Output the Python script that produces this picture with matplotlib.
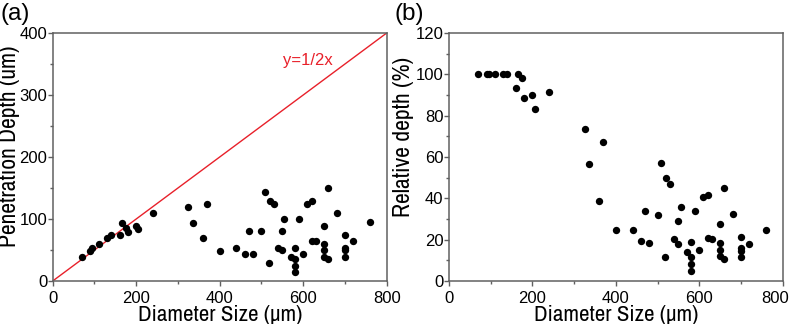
import matplotlib
matplotlib.use("Agg")
import matplotlib.pyplot as plt
from matplotlib.ticker import MultipleLocator
from matplotlib import font_manager as fm
from matplotlib.transforms import ScaledTranslation

plt.rcParams['font.family'] = ['Liberation Sans', 'DejaVu Sans']

# look for a condensed/narrow sans face for the axis titles
narrow = None
for f in fm.fontManager.ttflist:
    n = f.name
    if ('Narrow' in n or 'Condensed' in n) and 'Mono' not in n and 'Serif' not in n:
        narrow = n
        break
if narrow is None:
    for f in fm.fontManager.ttflist:
        if f.stretch in ('condensed', 'semi-condensed', 'extra-condensed') and 'Mono' not in f.name:
            narrow = f.name
            break

# Data
diameter = [70, 90, 95, 110, 130, 140, 160, 165, 175, 180, 200, 205, 240,
            325, 335, 360, 370, 400, 440, 460, 470, 480, 500, 508, 519, 520,
            530, 540, 550, 550, 555, 570, 580, 580, 580, 580, 590, 600, 610,
            620, 620, 630, 650, 650, 650, 650, 660, 660, 680, 700, 700, 700,
            700, 720, 760]
depth = [39, 49, 54, 60, 69, 75, 74, 94, 85, 79, 89, 84, 109,
         119, 94, 69, 124, 49, 54, 44, 80, 44, 80, 144, 29.5, 129,
         124, 54, 80, 49.5, 99.5, 39, 54, 35, 24, 14, 99.5, 44, 124,
         129, 64.5, 64.5, 89, 59, 49.5, 39, 149.5, 35, 110, 74, 54, 49.5,
         39, 64.5, 94.6]
relative = [100, 100, 100, 100, 100, 100, 93.5, 100, 98, 88.7, 89.8, 83, 91.4,
            73.5, 56.5, 38.7, 67.4, 24.8, 24.8, 19.4, 33.9, 18.5, 31.8, 57, 11.5, 49.8,
            47, 20.2, 28.9, 17.9, 35.8, 13.9, 18.7, 11.8, 8.4, 5, 33.7, 14.8, 40.6,
            41.8, 20.6, 20.3, 27.6, 18.4, 15.2, 11.9, 45, 10.5, 32.3, 21.1, 15.8, 14.7,
            11.5, 17.8, 24.8]
line_x = [0, 800]
line_y = [0, 400]
x_ticks = [0, 200, 400, 600, 800]

if narrow:
    lab_font = dict(family=[narrow, 'DejaVu Sans'], fontsize=17)
    lab_font_x = dict(family=[narrow, 'DejaVu Sans'], fontsize=16.5)
else:
    lab_font = dict(fontsize=15.5)
    lab_font_x = dict(fontsize=14)

fig = plt.figure(figsize=(7.89, 3.24), dpi=100)
ax1 = fig.add_axes([52.7/789, 43/324, 334/789, 248/324])
ax2 = fig.add_axes([449/789, 43/324, 333.7/789, 248/324])

spine_col = '#606060'
for ax in (ax1, ax2):
    for s in ax.spines.values():
        s.set_color(spine_col)
        s.set_linewidth(1.1)
    ax.tick_params(axis='both', which='major', direction='out', length=3.5, width=1,
                   color=spine_col, labelsize=12, top=False, right=False)
    ax.tick_params(axis='y', which='major', pad=0.5)
    ax.tick_params(axis='x', which='major', pad=4)
    ax.tick_params(which='minor', direction='out', length=2, width=1, color=spine_col,
                   top=False, right=False)
    ax.set_xlim(0, 800)
    ax.set_xticks(x_ticks)
    ax.xaxis.set_minor_locator(MultipleLocator(100))
    ax.set_xlabel('Diameter Size (μm)', labelpad=-1, **lab_font_x)

ax1.plot(line_x, line_y, color='#e8202a', lw=1.0)
ax1.scatter(diameter, depth, s=28, color='black', zorder=3, linewidths=0)
ax1.set_ylim(0, 400)
ax1.yaxis.set_major_locator(MultipleLocator(100))
ax1.yaxis.set_minor_locator(MultipleLocator(50))
ax1.set_ylabel('Penetration Depth (um)', va='center', **lab_font)
ax1.yaxis.set_label_coords((10 - 52.7) / 334, (281 - 146.5) / 248)
ax1.text(611, 355, 'y=1/2x', color='#e8202a', fontsize=12, ha='center', va='center')

ax2.scatter(diameter, relative, s=28, color='black', zorder=3, linewidths=0)
ax2.set_ylim(0, 120)
ax2.yaxis.set_major_locator(MultipleLocator(20))
ax2.yaxis.set_minor_locator(MultipleLocator(10))
ax2.set_ylabel('Relative depth (%)', va='center', **lab_font)
ax2.yaxis.set_label_coords((403.5 - 449) / 333.7, (281 - 136.5) / 248)

fig.text(1/789, 1 - 14/324, '(a)', fontsize=17.5, va='center', ha='left')
fig.text(395/789, 1 - 14/324, '(b)', fontsize=17.5, va='center', ha='left')

# last tick label of the right panel sits slightly left so it stays inside the figure
last = ax2.get_xticklabels()[-1]
last.set_transform(last.get_transform() + ScaledTranslation(-8/100, 0, fig.dpi_scale_trans))

fig.savefig('out.png', dpi=100)
